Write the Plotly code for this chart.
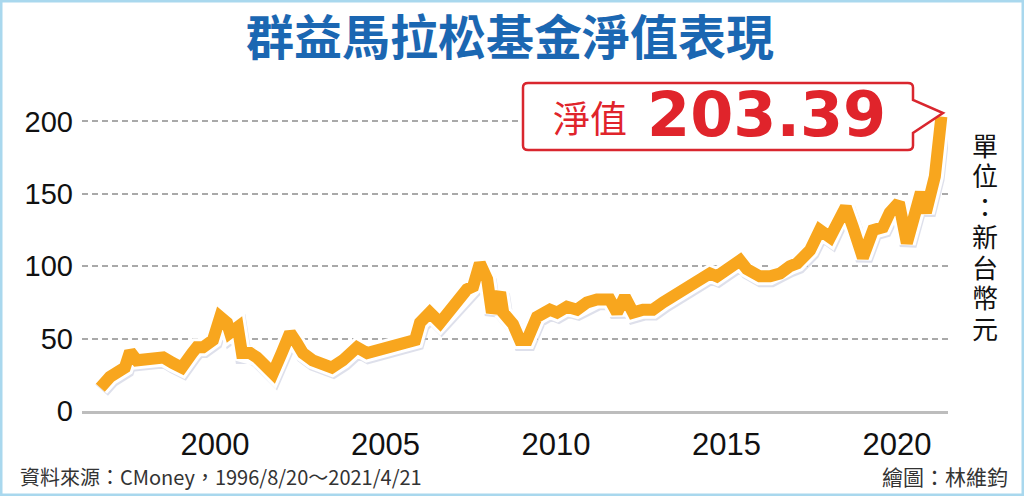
import pandas as pd
import plotly.graph_objects as go

# NAV of the fund (TWD)
dates = [
    "1996-08-20", "1996-12-01", "1997-05-10", "1997-07-05", "1997-09-15", "1998-01-05",
    "1998-03-05", "1998-06-25", "1998-10-08", "1999-01-10", "1999-05-01", "1999-06-20",
    "1999-08-25", "1999-12-10", "2000-02-25", "2000-05-08", "2000-06-10", "2000-09-01",
    "2000-10-15", "2001-01-12", "2001-03-25", "2001-05-30", "2001-09-12", "2001-12-15",
    "2002-03-15", "2002-05-26", "2002-07-30", "2002-11-12", "2003-03-25", "2003-06-05",
    "2003-10-01", "2004-03-01", "2004-06-18", "2004-11-03", "2005-03-20", "2005-08-18",
    "2005-11-13", "2006-01-05", "2006-04-20", "2006-08-08", "2006-12-25", "2007-05-22",
    "2007-07-28", "2007-10-08", "2007-12-25", "2008-02-14", "2008-05-12", "2008-06-14",
    "2008-09-27", "2008-12-10", "2009-02-25", "2009-06-10", "2009-10-27", "2010-01-12",
    "2010-04-27", "2010-08-14", "2010-11-28", "2011-03-15", "2011-07-31", "2011-10-16",
    "2012-01-08", "2012-04-05", "2012-07-20", "2012-11-03", "2013-02-20", "2013-06-06",
    "2013-09-20", "2013-12-05", "2014-03-22", "2014-07-08", "2014-09-20", "2015-02-06",
    "2015-05-26", "2015-08-08", "2015-12-24", "2016-04-12", "2016-07-27", "2016-11-10",
    "2017-01-27", "2017-06-14", "2017-09-27", "2018-01-15", "2018-03-28", "2018-07-02",
    "2018-09-17", "2019-01-01", "2019-04-20", "2019-08-04", "2019-10-16", "2020-01-22",
    "2020-04-16", "2020-07-24", "2020-09-13", "2020-11-06", "2021-02-10", "2021-04-21",
]
nav = [
    16, 23.5, 30, 41, 35, 35, 37, 37, 33, 30, 40, 44,
    44, 49, 65, 61, 54, 58, 40, 40, 37, 33, 26, 40,
    54, 47, 40, 35, 33, 30, 35, 44, 40, 42, 44, 46,
    49, 61, 68, 61, 72, 84, 86, 102, 91, 68, 82, 68,
    60, 49, 49, 65, 70, 68, 72, 70, 75, 77, 77, 68,
    79, 68, 70, 70, 75, 79, 82, 86, 91, 95, 93, 100,
    104, 98, 93, 93, 95, 100, 102, 111, 125, 120, 130, 141,
    127, 106, 125, 127, 137, 144, 116, 139, 151, 137, 162, 203.39,
]
tick_years = [2000, 2005, 2010, 2015, 2020]
y_ticks = [0, 50, 100, 150, 200]
last_nav_label = "203.39"
unit_text = "單位：新台幣元"

ORANGE = "#F8A61E"
RED = "#E0242B"

x_range = [pd.Timestamp("1996-02-06"), pd.Timestamp("2021-07-01")]
y_range = [0, 210]
# shadow: same data drawn on shifted axes, slightly right / down
sh_dx = pd.Timedelta(days=14)
sh_dy = 1.6

fig = go.Figure()

# invisible trace so the base subplot (grid, ticks, axis line) gets drawn
fig.add_trace(go.Scatter(
    x=dates, y=nav, mode="lines", line=dict(width=0), opacity=0,
    hoverinfo="skip", showlegend=False,
))
fig.add_trace(go.Scatter(
    x=dates, y=nav, xaxis="x2", yaxis="y2", mode="lines",
    line=dict(color="rgba(190,194,216,0.5)", width=17),
    hoverinfo="skip", showlegend=False,
))
fig.add_trace(go.Scatter(
    x=dates, y=nav, xaxis="x3", yaxis="y3", mode="lines",
    line=dict(color="white", width=18),
    hoverinfo="skip", showlegend=False,
))
fig.add_trace(go.Scatter(
    x=dates, y=nav, xaxis="x3", yaxis="y3", mode="lines",
    line=dict(color=ORANGE, width=12),
    showlegend=False,
))

hidden = dict(visible=False, showgrid=False, zeroline=False)

fig.update_layout(
    width=1024, height=496,
    margin=dict(l=82, r=76, t=107, b=85),
    paper_bgcolor="white", plot_bgcolor="white",
    font=dict(family="Arial, Liberation Sans, sans-serif", color="#111"),
    xaxis=dict(
        type="date", range=x_range,
        tickvals=[f"{y}-01-01" for y in tick_years],
        ticktext=[str(y) for y in tick_years],
        showgrid=False, zeroline=False,
        showline=True, linecolor="#BDBDBD", linewidth=3,
        ticks="", ticklabelstandoff=4,
        tickfont=dict(size=31, color="#111"),
    ),
    yaxis=dict(
        range=y_range, tickvals=y_ticks,
        showgrid=True, gridcolor="#A9A9A9", gridwidth=2, griddash="6px,4px",
        zeroline=False, showline=False, ticks="", ticklabelstandoff=8,
        tickfont=dict(size=29, color="#111"),
    ),
    xaxis2=dict(type="date", overlaying="x", range=[x_range[0] - sh_dx, x_range[1] - sh_dx], **hidden),
    yaxis2=dict(overlaying="y", range=[y_range[0] + sh_dy, y_range[1] + sh_dy], **hidden),
    xaxis3=dict(type="date", overlaying="x", range=x_range, **hidden),
    yaxis3=dict(overlaying="y", range=y_range, **hidden),
    title=dict(
        text="<b>群益馬拉松基金淨值表現</b>",
        x=0.498, y=0.923, xanchor="center", yanchor="middle",
        font=dict(family="Noto Sans CJK TC", size=48, color="#1B67B2"),
    ),
)

# pixel -> paper helpers (plot area 82..948 x 107..411)
def px(x):
    return (x - 82) / 866


def py(y):
    return (411 - y) / 304


# callout box with pointer to the last value
x0, x1, xt = px(523), px(913), px(943)
ytop, ybot = py(83), py(150)
yp1, yt, yp2 = py(100), py(113), py(133)
r = 0.006
path = (
    f"M {x0 + r},{ytop} L {x1 - r},{ytop} Q {x1},{ytop} {x1},{ytop - 0.015} "
    f"L {x1},{yp1} L {xt},{yt} L {x1},{yp2} "
    f"L {x1},{ybot + 0.015} Q {x1},{ybot} {x1 - r},{ybot} "
    f"L {x0 + r},{ybot} Q {x0},{ybot} {x0},{ybot + 0.015} "
    f"L {x0},{ytop - 0.015} Q {x0},{ytop} {x0 + r},{ytop} Z"
)
fig.add_shape(type="path", path=path, xref="paper", yref="paper",
              line=dict(color="#D9262E", width=2.5), fillcolor="white", layer="above")

# light blue frame around the graphic
fig.add_shape(type="rect", xref="paper", yref="paper",
              x0=px(0), x1=px(1024), y0=py(496), y1=py(0),
              line=dict(color="#A9D8EE", width=5), layer="below")

fig.add_annotation(text="淨值", xref="paper", yref="paper", x=px(590), y=py(117),
                   showarrow=False, xanchor="center", yanchor="middle",
                   font=dict(family="Noto Sans CJK TC", size=37, color=RED))
fig.add_annotation(text=f"<b>{last_nav_label}</b>", xref="paper", yref="paper",
                   x=px(766), y=py(114), showarrow=False, xanchor="center", yanchor="middle",
                   font=dict(family="DejaVu Sans", size=62, color=RED))

# vertical unit text, one character per line
for i, ch in enumerate(unit_text):
    fig.add_annotation(text=ch, xref="paper", yref="paper", x=px(985), y=py(144 + i * 30.5),
                       showarrow=False, xanchor="center", yanchor="middle",
                       font=dict(family="Noto Sans CJK TC", size=26, color="#111"))

fig.add_annotation(text="資料來源：CMoney，1996/8/20～2021/4/21", xref="paper", yref="paper",
                   x=px(18), y=py(476), showarrow=False, xanchor="left", yanchor="middle",
                   font=dict(family="Noto Sans CJK TC", size=20, color="#333"))
fig.add_annotation(text="繪圖：林維鈞", xref="paper", yref="paper",
                   x=px(1010), y=py(476), showarrow=False, xanchor="right", yanchor="middle",
                   font=dict(family="Noto Sans CJK TC", size=21, color="#333"))

# drop the default 8px page margin so the figure sits at the window's corner
fig.write_html("out.html", config={"displayModeBar": False},
               post_script="document.body.style.margin='0';")
